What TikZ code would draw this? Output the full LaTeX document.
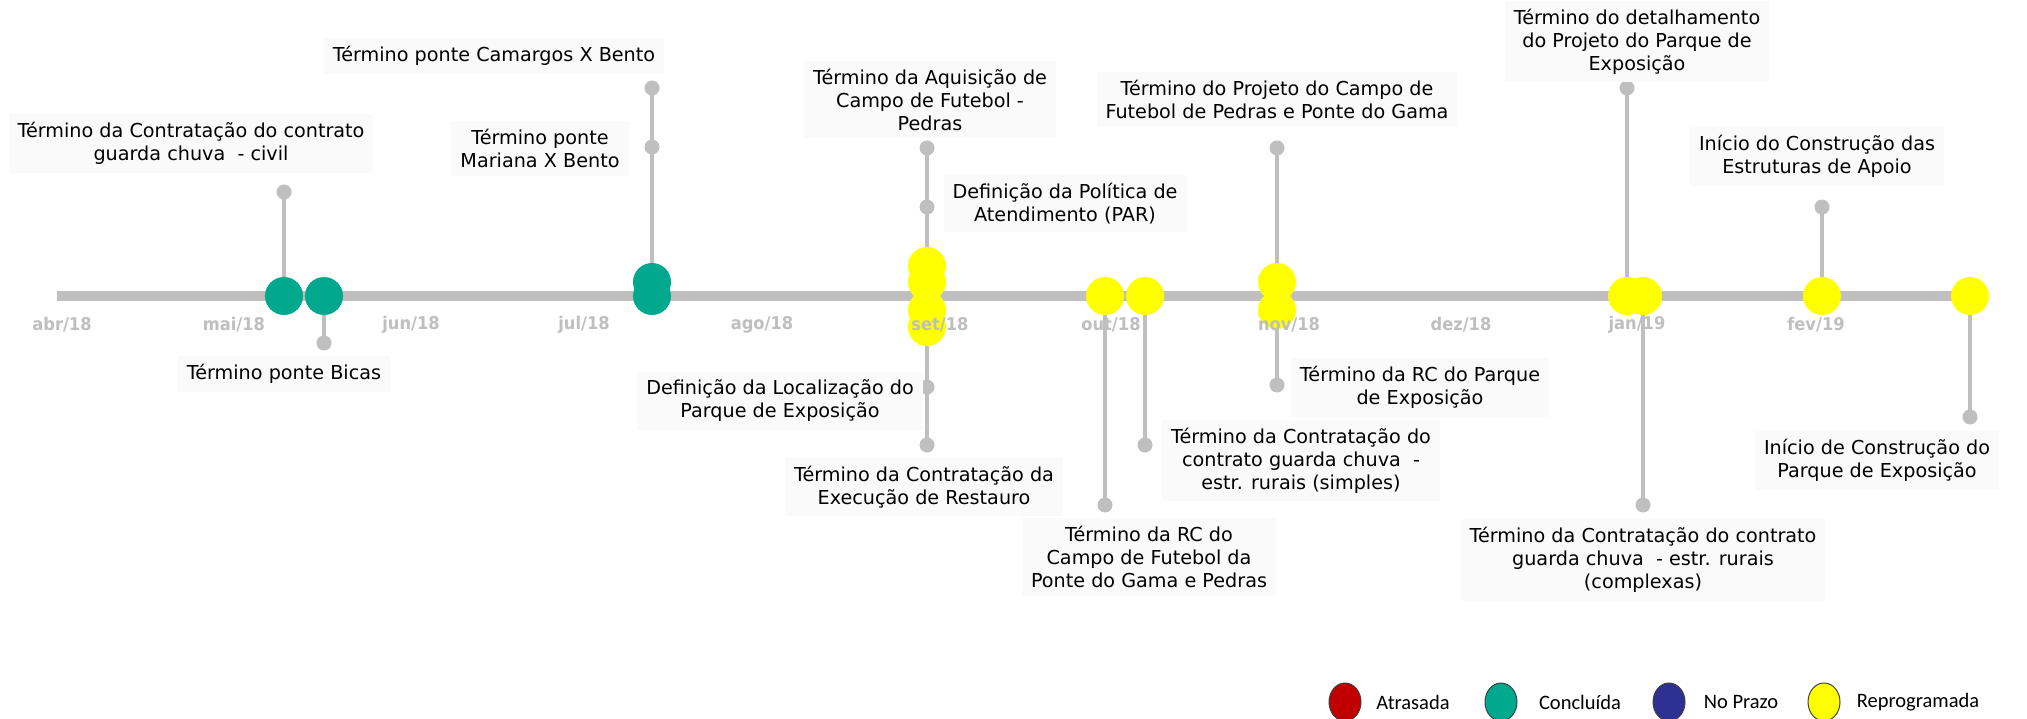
\documentclass[tikz,border=0pt]{standalone}
\usepackage{fontspec}
\setmainfont{DejaVu Sans}
\newfontfamily\legfont{Carlito}
\newfontfamily\monthfont{DejaVu Sans}[FakeStretch=0.93]
\usetikzlibrary{shapes.geometric}
\pgfdeclarelayer{back}
\pgfdeclarelayer{mid}
\pgfsetlayers{back,mid,main}
\definecolor{tl}{HTML}{BFBFBF}
\definecolor{tealc}{RGB}{0,168,142}
\definecolor{yel}{HTML}{FFFF00}
\definecolor{boxf}{HTML}{FAFAFA}
\definecolor{redc}{HTML}{C00000}
\definecolor{navyc}{HTML}{2E3192}
\definecolor{legline}{HTML}{404040}
\tikzset{
  ms/.style={circle, minimum size=38pt, inner sep=0pt, draw=none},
  done/.style={ms, fill=tealc},
  resched/.style={ms, fill=yel},
  tipdot/.style={circle, minimum size=15pt, inner sep=0pt, fill=tl},
  stem/.style={draw=tl, line width=4pt},
  lbl/.style={fill=boxf, align=center, font=\fontsize{19.2}{23}\selectfont, inner xsep=9pt, inner ysep=8pt, text=black},
  month/.style={font=\monthfont\bfseries\fontsize{17.5}{20}\selectfont, text=tl, inner sep=0pt},
  legdot/.style={ellipse, minimum width=32pt, minimum height=38pt, inner sep=0pt, draw=legline, line width=1pt},
  legtxt/.style={font=\legfont\fontsize{20.5}{24}\selectfont, text=black, inner sep=0pt},
}
\begin{document}
\begin{tikzpicture}[x=1pt,y=-1pt]
\useasboundingbox (0,0) rectangle (2027,719);
\begin{pgfonlayer}{back}
  \fill[white] (0,0) rectangle (2027,719);
  \coordinate (tlstart) at (57,296);
  \coordinate (tlend) at (1970,296);
  \draw[tl, line width=10pt] (tlstart) -- (tlend);
\end{pgfonlayer}

% milestones
\node[done] (t1) at (284,296) {};
\node[done] (t2) at (324,296) {};
\node[done] (t3) at (652,296) {};
\node[done] (t4) at (652,282) {};
\node[resched] (s1) at (927,327) {};
\node[resched] (s2) at (927,310) {};
\node[resched] (s3) at (927,282) {};
\node[resched] (s4) at (927,266) {};
\node[resched] (o1) at (1105,296) {};
\node[resched] (o2) at (1145,296) {};
\node[resched] (n2) at (1277,310) {};
\node[resched] (n1) at (1277,282) {};
\node[resched] (j1) at (1627,296) {};
\node[resched] (j2) at (1643,296) {};
\node[resched] (f1) at (1822,296) {};
\node[resched] (z1) at (1970,296) {};

% stem end dots
\node[tipdot] (e1) at (284,192) {};
\node[tipdot] (e2) at (324,343) {};
\node[tipdot] (e3) at (652,88) {};
\node[tipdot] (e4) at (652,147) {};
\node[tipdot] (e5) at (927,148) {};
\node[tipdot] (e6) at (927,207) {};
\node[tipdot] (e7) at (927,445) {};
\node[tipdot] (e8) at (927,387) {};
\node[tipdot] (e9) at (1105,505) {};
\node[tipdot] (e10) at (1145,445) {};
\node[tipdot] (e11) at (1277,148) {};
\node[tipdot] (e12) at (1277,385) {};
\node[tipdot] (e13) at (1627,88) {};
\node[tipdot] (e14) at (1643,505) {};
\node[tipdot] (e15) at (1822,207) {};
\node[tipdot] (e16) at (1970,417) {};

\begin{pgfonlayer}{mid}
  \draw[stem] (t1.center) -- (e1.center);
  \draw[stem] (t2.center) -- (e2.center);
  \draw[stem] (t4.center) -- (e3.center);
  \draw[stem] (s4.center) -- (e5.center);
  \draw[stem] (s1.center) -- (e7.center);
  \draw[stem] (o1.center) -- (e9.center);
  \draw[stem] (o2.center) -- (e10.center);
  \draw[stem] (n1.center) -- (e11.center);
  \draw[stem] (n2.center) -- (e12.center);
  \draw[stem] (j1.center) -- (e13.center);
  \draw[stem] (j2.center) -- (e14.center);
  \draw[stem] (f1.center) -- (e15.center);
  \draw[stem] (z1.center) -- (e16.center);
\end{pgfonlayer}

% month labels
\node[month] (m1) at (62,325) {abr/18};
\node[month] (m2) at (234,325) {mai/18};
\node[month] (m3) at (411,325) {jun/18};
\node[month] (m4) at (584,325) {jul/18};
\node[month] (m5) at (762,325) {ago/18};
\node[month] (m6) at (940,325) {set/18};
\node[month] (m7) at (1111,325) {out/18};
\node[month] (m8) at (1289,325) {nov/18};
\node[month] (m9) at (1461,325) {dez/18};
\node[month] (m10) at (1637,325) {jan/19};
\node[month] (m11) at (1816,325) {fev/19};

% labels
\node[lbl] (la) at (191,143.5) {Término da Contratação do contrato\\guarda chuva\ \ - civil};
\node[lbl] (lb) at (284,374) {Término ponte Bicas};
\node[lbl] (lc) at (494,56) {Término ponte Camargos X Bento};
\node[lbl] (ld) at (540,148.5) {Término ponte\\Mariana X Bento};
\node[lbl] (le) at (930,99.5) {Término da Aquisição de\\Campo de Futebol -\\Pedras};
\node[lbl] (lf) at (1065,203.5) {Definição da Política de\\Atendimento (PAR)};
\node[lbl] (lg) at (1277,99) {Término do Projeto do Campo de\\Futebol de Pedras e Ponte do Gama};
\node[lbl] (lh) at (1637,41.5) {Término do detalhamento\\do Projeto do Parque de\\Exposição};
\node[lbl] (li) at (1817,156.5) {Início do Construção das\\Estruturas de Apoio};
\node[lbl] (lj) at (780,401) {Definição da Localização do\\Parque de Exposição};
\node[lbl] (lk) at (924,487) {Término da Contratação da\\Execução de Restauro};
\node[lbl] (ll) at (1149,557) {Término da RC do\\Campo de Futebol da\\Ponte do Gama e Pedras};
\node[lbl] (lm) at (1301,460.5) {Término da Contratação do\\contrato guarda chuva\ \ -\\estr. rurais (simples)};
\node[lbl] (ln) at (1420,387.5) {Término da RC do Parque\\de Exposição};
\node[lbl] (lo) at (1877,460.5) {Início de Construção do\\Parque de Exposição};
\node[lbl] (lp) at (1643,560) {Término da Contratação do contrato\\guarda chuva\ \ - estr. rurais\\(complexas)};

% legend
\node[legdot, fill=redc] (g1) at (1345,702) {};
\node[legdot, fill=tealc] (g2) at (1501,702) {};
\node[legdot, fill=navyc] (g3) at (1669,702) {};
\node[legdot, fill=yel] (g4) at (1824,702) {};
\node[legtxt] (h1) at (1413,702) {Atrasada};
\node[legtxt] (h2) at (1580,702) {Concluída};
\node[legtxt] (h3) at (1741,702) {No Prazo};
\node[legtxt] (h4) at (1918,702) {Reprogramada};
\end{tikzpicture}
\end{document}
